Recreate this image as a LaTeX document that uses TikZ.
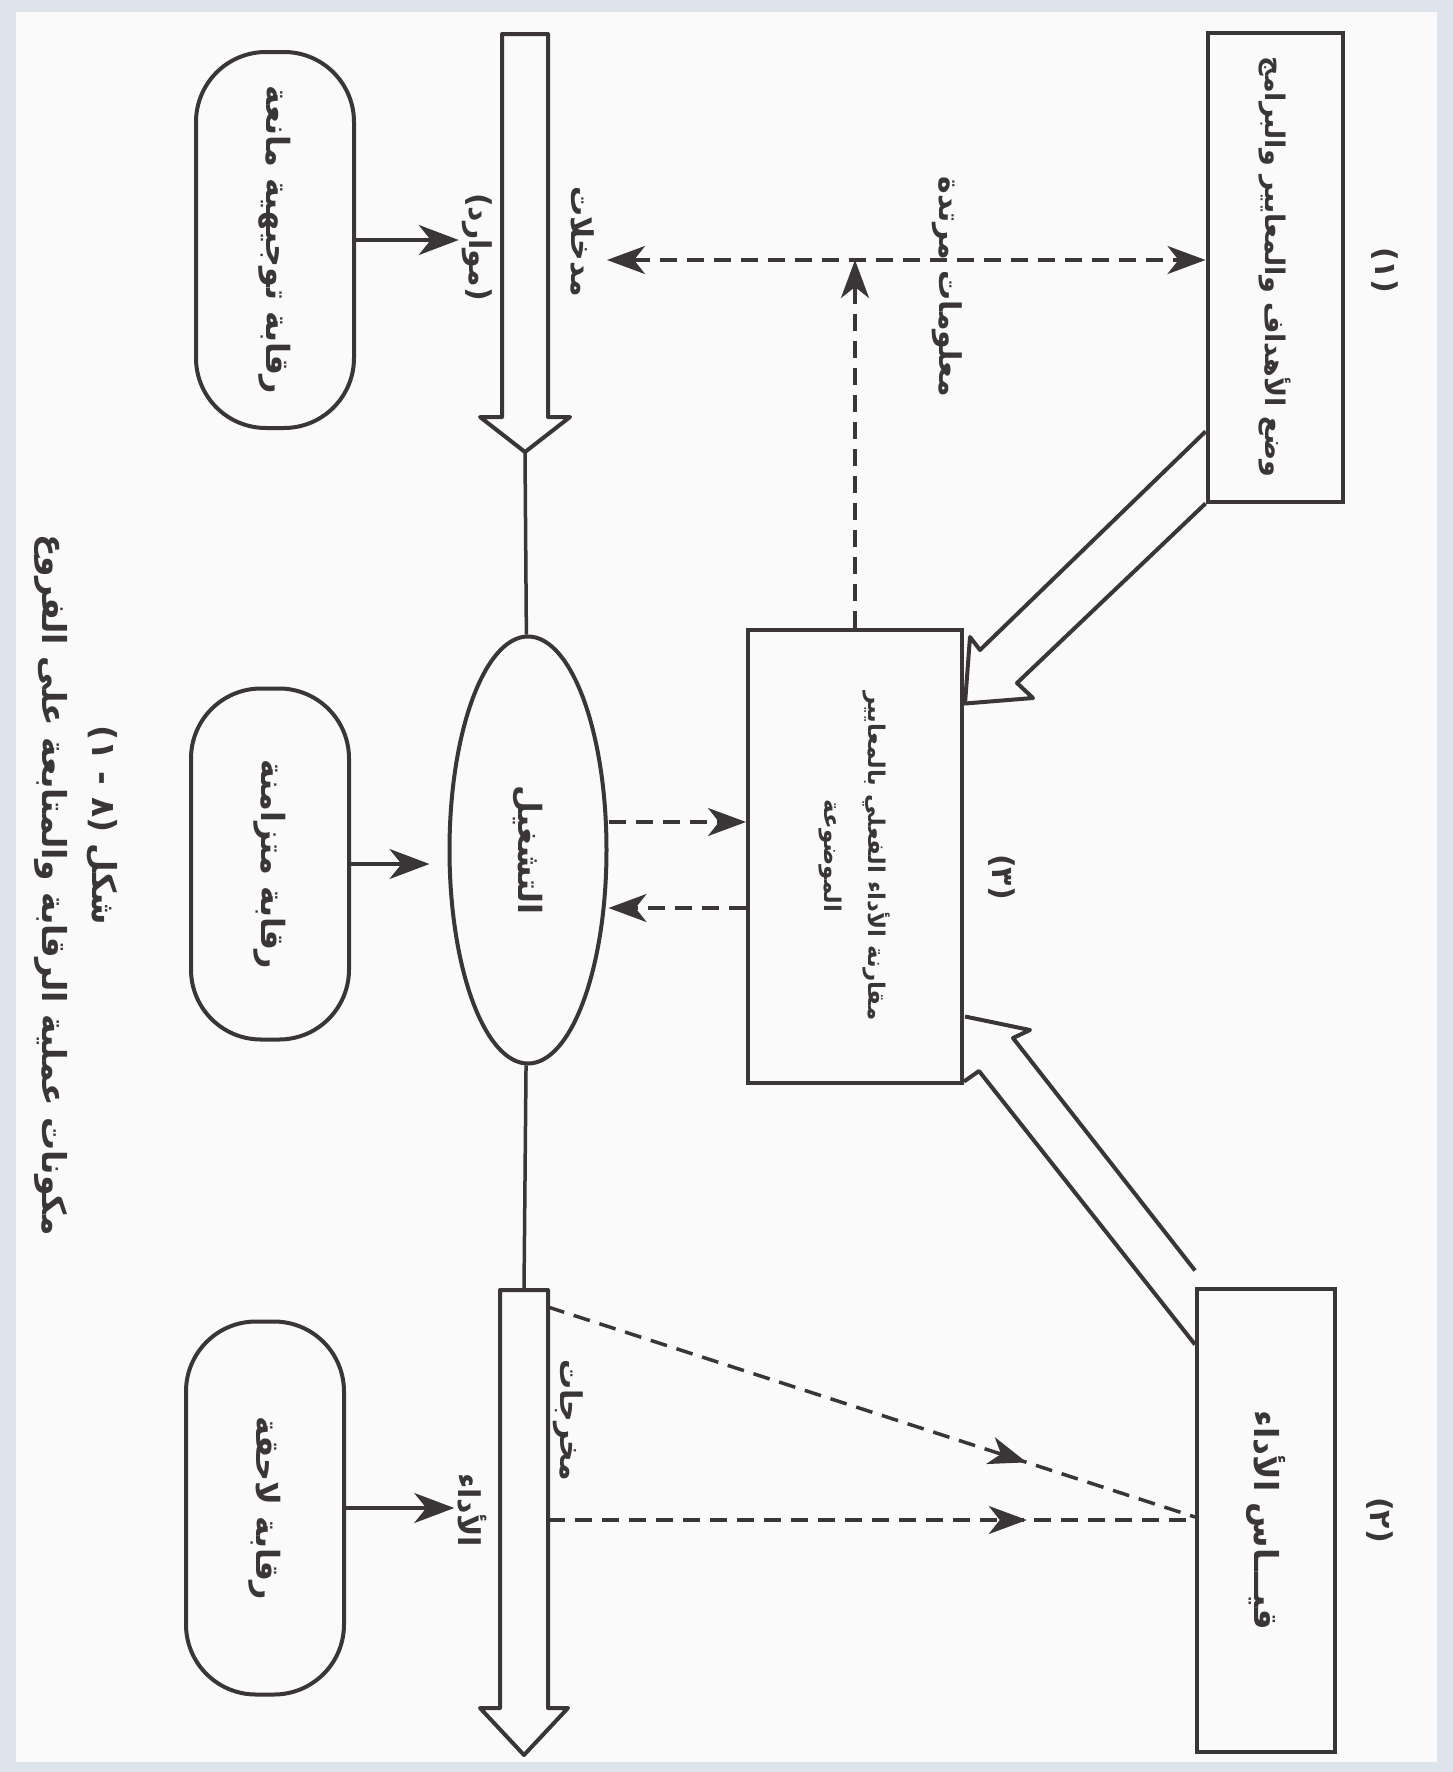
\documentclass[tikz,border=0pt]{standalone}
\usepackage{fontspec}
\newfontfamily\arabicfont[Script=Arabic]{DejaVu Sans}
\TeXXeTstate=1
\usetikzlibrary{
    arrows.meta,
    calc,
    decorations.markings,
    shapes.geometric
}
\definecolor{inkgray}{RGB}{58,54,56}
\definecolor{framegray}{RGB}{222,228,236}
\newcommand{\artext}[1]{\beginR #1\endR}

\begin{document}
\begin{tikzpicture}[
    x=1pt, y=-1pt,
    color=inkgray,
    stagebox/.style = {rectangle, draw, line width=4pt, rotate=-90,
                       align=center,
                       font=\arabicfont\bfseries\fontsize{27}{44}\selectfont},
    ctrlbox/.style = {rectangle, draw, line width=4pt, rotate=-90,
                      rounded corners=70pt, minimum height=158pt,
                      font=\arabicfont\bfseries\fontsize{32}{40}\selectfont},
    textlabel/.style = {rotate=-90, inner sep=3pt,
                        font=\arabicfont\bfseries\fontsize{30}{36}\selectfont},
    numlabel/.style = {rotate=-90, inner sep=2pt,
                       font=\arabicfont\bfseries\fontsize{30}{36}\selectfont},
    blockline/.style = {line width=4pt, line join=round},
    spineline/.style = {line width=3.5pt},
    ctrlarrow/.style = {line width=3.5pt,
                        -{Stealth[length=40pt, width=30pt, inset=12pt]}},
    feedbackline/.style = {line width=3.5pt, dash pattern=on 17pt off 10pt},
    midtip/.style = {postaction={decorate},
                     decoration={markings, mark=at position 0.74 with
                       {\arrow{Stealth[length=38pt, width=28pt, inset=11pt]}}}}
]

    % page and scan frame
    \useasboundingbox (0,0) rectangle (1453,1772);
    \fill[framegray] (0,0) rectangle (1453,1772);
    \fill[white!98!black] (16,12) rectangle (1437,1762);

    % the three stages
    \node[stagebox, minimum width=469pt, minimum height=135pt] (goals) at (1275,267)
        {\artext{وضع الأهداف والمعايير والبرامج}};
    \node[stagebox, minimum width=453pt, minimum height=214pt,
          font=\arabicfont\bfseries\fontsize{23}{44}\selectfont] (compare) at (855,856)
        {\artext{مقارنة الأداء الفعلي بالمعايير}\\\artext{الموضوعة}};
    \node[stagebox, minimum width=463pt, minimum height=138pt,
          font=\arabicfont\bfseries\fontsize{33}{44}\selectfont] (measure) at (1266,1520)
        {\artext{قيـــاس الأداء}};

    \node[numlabel] (num1) at (1385,270) {\artext{(١)}};
    \node[numlabel] (num3) at (1002,877) {\artext{(٣)}};
    \node[numlabel] (num2) at (1380,1520) {\artext{(٢)}};

    % operation
    \node[ellipse, draw, line width=4pt, rotate=-90,
          minimum width=427pt, minimum height=157pt,
          font=\arabicfont\bfseries\fontsize{32}{40}\selectfont] (oper) at (528,850)
        {\artext{التشغيل}};

    % kinds of control
    \node[ctrlbox, minimum width=376pt] (feedfwd) at (275,240)
        {\artext{رقابة توجيهية مانعة}};
    \node[ctrlbox, minimum width=351pt] (concur) at (270,864)
        {\artext{رقابة متزامنة}};
    \node[ctrlbox, minimum width=373pt] (feedback) at (265,1508)
        {\artext{رقابة لاحقة}};

    % labels along the flow
    \node[textlabel] (inlab) at (582,242) {\artext{مدخلات}};
    \node[textlabel] (reslab) at (477,247) {\artext{(موارد)}};
    \node[textlabel] (outlab) at (568,1420) {\artext{مخرجات}};
    \node[textlabel] (perflab) at (472,1510) {\artext{الأداء}};
    \node[textlabel] (fblab) at (947,287) {\artext{معلومات مرتدة}};

    % caption
    \node[textlabel, font=\arabicfont\bfseries\fontsize{33}{40}\selectfont] (figno) at (102,825)
        {\artext{شكل (٨ - ١)}};
    \node[textlabel, font=\arabicfont\bfseries\fontsize{33}{40}\selectfont] (figtitle) at (51,885)
        {\artext{مكونات عملية الرقابة والمتابعة على الفروع}};

    % input and output block arrows
    \draw[blockline] (502,34) -- (502,417) -- (480,417) -- (525,452) coordinate (intip)
        -- (570,417) -- (548,417) -- (548,34) -- cycle;
    \draw[blockline] (500,1290) -- (500,1708) -- (480,1708) -- (524,1755)
        -- (568,1708) -- (548,1708) -- (548,1290) coordinate (outNE) -- cycle;
    \coordinate (outtop) at (524,1290);

    \draw[spineline] (intip) -- (oper);
    \draw[spineline] (oper) -- (outtop);

    % wide arrows into the comparison
    \draw[blockline] ($(goals.south east)+(0,-72)$) -- (980,650) -- (970,637)
        -- ($(compare.north west)+(1,76)$) -- (1033,698) -- (1017,683) -- (goals.south east);
    \draw[blockline] ($(measure.south west)+(0,-16)$) -- (1013,1038) -- (1030,1030)
        -- ($(compare.north east)+(1,-68)$);
    \draw[blockline] ($(compare.north east)+(0,-3)$) -- (979,1071)
        -- ($(measure.south west)+(0,58)$);

    % control arrows
    \draw[ctrlarrow] (feedfwd.north) -- (feedfwd.north -| reslab.south);
    \draw[ctrlarrow, shorten >=18pt] (concur.north) -- (concur.north -| oper.south);
    \draw[ctrlarrow] (feedback.north) -- (feedback.north -| perflab.south);

    % information flows
    \coordinate (fbend) at (607,260);
    \draw[feedbackline, {Stealth[length=38pt, width=28pt, inset=11pt]}-{Stealth[length=38pt, width=28pt, inset=11pt]}]
        (fbend) -- (fbend -| goals.south);
    \draw[feedbackline, -{Stealth[length=38pt, width=28pt, inset=11pt]}]
        (compare.west) -- (compare.west |- fbend);

    \coordinate (opup) at ([yshift=28pt]oper.north);
    \coordinate (opdown) at ([yshift=-58pt]oper.north);
    \draw[feedbackline, -{Stealth[length=38pt, width=28pt, inset=11pt]}]
        (opup) -- (opup -| compare.south);
    \draw[feedbackline, -{Stealth[length=38pt, width=28pt, inset=11pt]}]
        (opdown -| compare.south) -- (opdown);

    \draw[feedbackline, midtip] ([yshift=-17pt]outNE) -- ([yshift=3pt]measure.south);
    \draw[feedbackline, midtip] (outNE |- measure.south) -- (measure.south);

\end{tikzpicture}
\end{document}
